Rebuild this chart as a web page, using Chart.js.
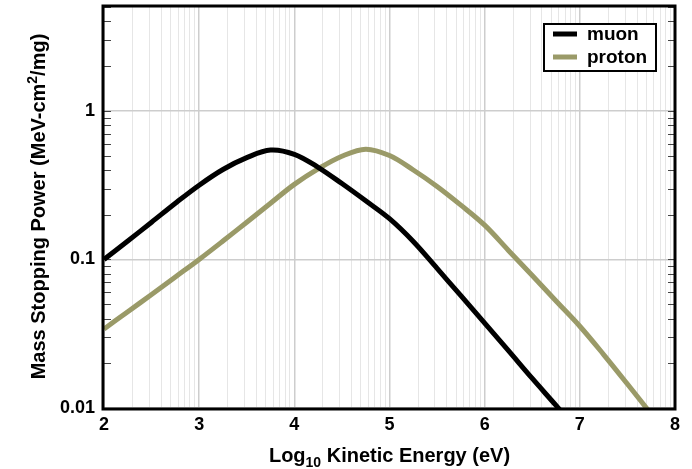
<!DOCTYPE html>
<html>
<head>
<meta charset="utf-8">
<script src="https://cdn.jsdelivr.net/npm/chart.js@4/dist/chart.umd.min.js"></script>
<style>
  html, body { margin: 0; padding: 0; background: #fff; }
  #wrap { width: 692px; height: 469px; position: relative; }
</style>
</head>
<body>
<div id="wrap"><canvas id="chartStopping"></canvas></div>
<script>
// Data
const muonEnergy = [2.0, 2.25, 2.5, 2.75, 3.0, 3.25, 3.5, 3.75, 4.0, 4.25, 4.5, 4.75, 5.0, 5.25, 5.5, 5.75, 6.0, 6.25, 6.5, 6.75, 7.0];
const muonPower = [0.100, 0.133, 0.178, 0.239, 0.316, 0.403, 0.484, 0.545, 0.51, 0.417, 0.324, 0.248, 0.188, 0.132, 0.087, 0.057, 0.0372, 0.0243, 0.0158, 0.0104, 0.0068];

const protonEnergy = [2.0, 2.25, 2.5, 2.75, 3.0, 3.25, 3.5, 3.75, 4.0, 4.25, 4.5, 4.75, 5.0, 5.25, 5.5, 5.75, 6.0, 6.25, 6.5, 6.75, 7.0, 7.25, 7.5, 7.75];
const protonPower = [0.034, 0.0445, 0.058, 0.0762, 0.100, 0.133, 0.178, 0.239, 0.32, 0.407, 0.495, 0.552, 0.50, 0.40, 0.31, 0.232, 0.17, 0.115, 0.078, 0.0525, 0.0355, 0.0229, 0.0145, 0.0091];

const seriesLabels = ['muon', 'proton'];
const seriesColors = ['#000000', '#9a9a68'];

const xMajorTicks = [2, 3, 4, 5, 6, 7, 8];
const yDecades = [0.01, 0.1, 1];
const yMin = 0.01, yMax = 5;

const FONT = '"Liberation Sans", Arial, Helvetica, sans-serif';

function toPoints(xs, ys) {
    return xs.map((x, i) => ({ x: x, y: ys[i] }));
}

// draw text pieces with sub/superscripts, centred on (cx, y)
function drawRich(ctx, parts, cx, y) {
    let total = 0;
    parts.forEach(p => {
        ctx.font = `bold ${p.size}px ${FONT}`;
        p.w = ctx.measureText(p.text).width;
        total += p.w;
    });
    let x = cx - total / 2;
    ctx.textAlign = 'left';
    ctx.textBaseline = 'alphabetic';
    parts.forEach(p => {
        ctx.font = `bold ${p.size}px ${FONT}`;
        ctx.fillText(p.text, x, y + (p.shift || 0));
        x += p.w;
    });
}

const framePlugin = {
    id: 'frame',
    beforeDatasetsDraw(chart) {
        // inward minor tick marks on both sides of the y axis
        const ctx = chart.ctx, a = chart.chartArea, ys = chart.scales.y;
        ctx.save();
        ctx.strokeStyle = '#444';
        ctx.lineWidth = 1.2;
        ys.ticks.forEach(t => {
            const py = Math.round(ys.getPixelForValue(t.value)) + 0.5;
            ctx.beginPath();
            ctx.moveTo(a.left, py); ctx.lineTo(a.left + 7, py);
            ctx.moveTo(a.right - 7, py); ctx.lineTo(a.right, py);
            ctx.stroke();
        });
        ctx.restore();
    },
    afterDraw(chart) {
        const ctx = chart.ctx, a = chart.chartArea;
        ctx.save();
        ctx.strokeStyle = '#000';
        ctx.lineWidth = 3;
        ctx.strokeRect(a.left - 1, a.top - 1, a.right - a.left + 1, a.bottom - a.top + 2);

        // legend
        const lx = 544, ly = 24, lw = 112, lh = 47;
        ctx.fillStyle = '#fff';
        ctx.fillRect(lx, ly, lw, lh);
        ctx.lineWidth = 2;
        ctx.strokeRect(lx, ly, lw, lh);
        chart.data.datasets.forEach((ds, i) => {
            const yy = ly + 10 + i * 23;
            ctx.strokeStyle = ds.borderColor;
            ctx.lineWidth = 5;
            ctx.beginPath();
            ctx.moveTo(lx + 9, yy); ctx.lineTo(lx + 33, yy);
            ctx.stroke();
            ctx.fillStyle = '#000';
            ctx.font = `bold 19px ${FONT}`;
            ctx.textAlign = 'left';
            ctx.textBaseline = 'alphabetic';
            ctx.fillText(ds.label, lx + 43, yy + 6);
        });

        // axis titles
        ctx.fillStyle = '#000';
        drawRich(ctx, [
            { text: 'Log', size: 20 },
            { text: '10', size: 14, shift: 5 },
            { text: ' Kinetic Energy (eV)', size: 20 }
        ], (a.left + a.right) / 2, 462);

        ctx.translate(45, (a.top + a.bottom) / 2 - 1);
        ctx.rotate(-Math.PI / 2);
        drawRich(ctx, [
            { text: 'Mass Stopping Power (MeV-cm', size: 20 },
            { text: '2', size: 14, shift: -8 },
            { text: '/mg)', size: 20 }
        ], 0, 0);
        ctx.restore();
    }
};

const ctxStop = document.getElementById('chartStopping').getContext('2d');
const chartStopping = new Chart(ctxStop, {
    type: 'line',
    data: {
        datasets: [
            {
                label: seriesLabels[0],
                data: toPoints(muonEnergy, muonPower),
                borderColor: seriesColors[0],
                borderWidth: 5,
                pointRadius: 0,
                tension: 0.35,
                clip: 0
            },
            {
                label: seriesLabels[1],
                data: toPoints(protonEnergy, protonPower),
                borderColor: seriesColors[1],
                borderWidth: 5,
                pointRadius: 0,
                tension: 0.35,
                clip: 0
            }
        ]
    },
    options: {
        responsive: true,
        maintainAspectRatio: false,
        animation: false,
        layout: { padding: { top: 7, right: 17, left: 0, bottom: 0 } },
        plugins: {
            legend: { display: false },
            tooltip: { enabled: false }
        },
        scales: {
            x: {
                type: 'linear',
                min: 2,
                max: 8,
                afterBuildTicks(scale) {
                    const ticks = [];
                    for (let d = 2; d < 8; d++) {
                        ticks.push({ value: d });
                        for (let k = 2; k <= 9; k++) ticks.push({ value: d + Math.log10(k) });
                    }
                    ticks.push({ value: 8 });
                    scale.ticks = ticks;
                },
                afterFit(scale) {
                    scale.height = 61;
                    scale.paddingLeft = 0;
                    scale.paddingRight = 0;
                },
                border: { display: false },
                grid: {
                    drawTicks: false,
                    color: c => xMajorTicks.includes(c.tick && c.tick.value) ? '#cdcdcd' : '#e6e6e6',
                    lineWidth: c => xMajorTicks.includes(c.tick && c.tick.value) ? 1.5 : 1
                },
                ticks: {
                    autoSkip: false,
                    maxRotation: 0,
                    padding: 6,
                    color: '#000',
                    font: { family: FONT, size: 18, weight: 'bold' },
                    callback: v => xMajorTicks.includes(v) ? String(v) : ''
                }
            },
            y: {
                type: 'logarithmic',
                min: yMin,
                max: yMax,
                afterBuildTicks(scale) {
                    const ticks = [];
                    yDecades.forEach(d => {
                        for (let k = 1; k <= 9; k++) {
                            const v = +(d * k).toPrecision(3);
                            if (v <= yMax) ticks.push({ value: v });
                        }
                    });
                    scale.ticks = ticks;
                },
                afterFit(scale) {
                    scale.width = 104;
                    scale.paddingTop = 0;
                    scale.paddingBottom = 0;
                },
                border: { display: false },
                grid: {
                    drawTicks: false,
                    color: c => yDecades.includes(c.tick && c.tick.value) ? '#cdcdcd' : 'rgba(0,0,0,0)',
                    lineWidth: 1.5
                },
                ticks: {
                    autoSkip: false,
                    padding: 9,
                    color: '#000',
                    font: { family: FONT, size: 18, weight: 'bold' },
                    callback: v => yDecades.includes(v) ? String(v) : ''
                }
            }
        }
    },
    plugins: [framePlugin]
});
</script>
</body>
</html>
